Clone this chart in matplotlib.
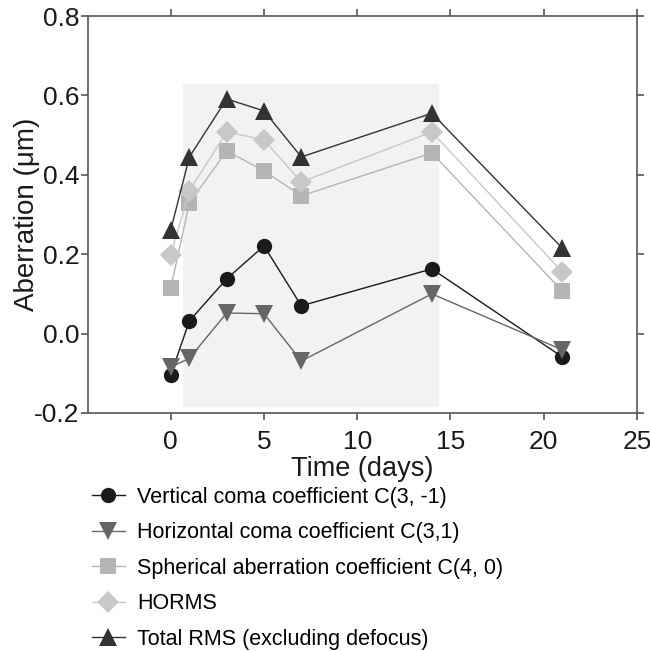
import matplotlib.pyplot as plt

plt.rcParams['font.family'] = ['Liberation Sans', 'DejaVu Sans']

days = [0, 1, 3, 5, 7, 14, 21]
vertical_coma = [-0.104, 0.032, 0.138, 0.221, 0.070, 0.163, -0.059]
horizontal_coma = [-0.085, -0.062, 0.052, 0.050, -0.069, 0.100, -0.041]
spherical = [0.115, 0.329, 0.460, 0.410, 0.347, 0.455, 0.107]
horms = [0.198, 0.360, 0.508, 0.488, 0.382, 0.508, 0.155]
total_rms = [0.261, 0.445, 0.591, 0.561, 0.445, 0.555, 0.215]

labels = ["Vertical coma coefficient C(3, -1)",
          "Horizontal coma coefficient C(3,1)",
          "Spherical aberration coefficient C(4, 0)",
          "HORMS",
          "Total RMS (excluding defocus)"]

# shaded treatment window
shade_x = (0.65, 14.4)
shade_y = (-0.185, 0.629)

fig = plt.figure(figsize=(6.5, 6.51), dpi=100)
ax = fig.add_axes([0.135, 0.3656, 0.845, 0.6098])

ax.fill_between(shade_x, shade_y[0], shade_y[1], color='#f2f2f2', lw=0, zorder=0)

series = [
    (vertical_coma, 'o', '#1a1a1a', 11),
    (horizontal_coma, 'v', '#666666', 13.5),
    (spherical, 's', '#b5b5b5', 11),
    (horms, 'D', '#c8c8c8', 11),
    (total_rms, '^', '#333333', 13.5),
]
for (vals, mk, col, ms), lab in zip(series, labels):
    ax.plot(days, vals, marker=mk, color=col, ms=ms, lw=1, mew=0, label=lab)

ax.set_xlim(-4.45, 25)
ax.set_ylim(-0.2, 0.8)
ax.set_xticks([0, 5, 10, 15, 20, 25])
ax.set_yticks([-0.2, 0.0, 0.2, 0.4, 0.6, 0.8])
ax.set_yticklabels(['-0.2', '0.0', '0.2', '0.4', '0.6', '0.8'])
ax.tick_params(labelsize=19, colors='#555555', labelcolor='#1a1a1a',
               direction='out', length=5, width=1.2,
               top=True, right=True)
ax.tick_params(axis='x', pad=7.5)
ax.tick_params(axis='y', pad=1)
for sp in ax.spines.values():
    sp.set_color('#555555')
    sp.set_linewidth(1.2)

ax.set_xlabel('Time (days)', fontsize=19.5, color='#1a1a1a', labelpad=1.5)
ax.set_ylabel('Aberration (\u03bcm)', fontsize=20, color='#1a1a1a', labelpad=-4)

ax.legend(loc='upper left', bbox_to_anchor=(0.141, 0.252),
          bbox_transform=fig.transFigure, frameon=False, fontsize=15.5,
          handlelength=1.55, handletextpad=0.55, labelspacing=0.67,
          borderaxespad=0, borderpad=0)

fig.savefig('out.png', dpi=100)
